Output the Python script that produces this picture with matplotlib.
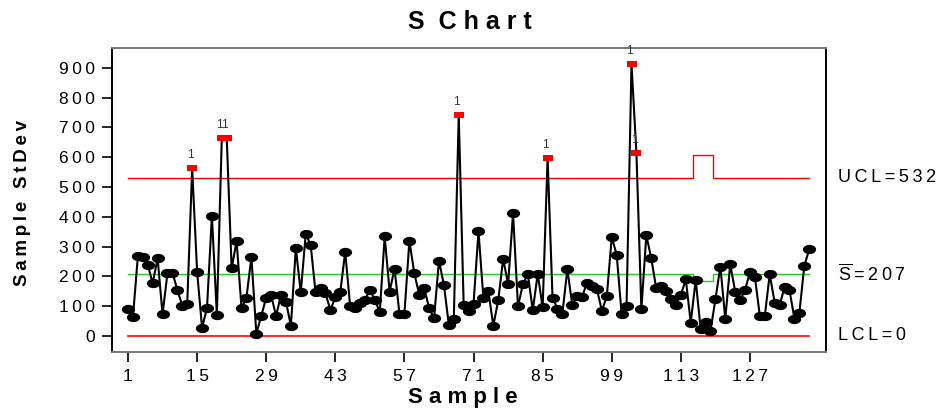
import numpy as np
import matplotlib.pyplot as plt
from matplotlib.path import Path
from matplotlib.transforms import Affine2D, blended_transform_factory

# sample standard deviations
stdev = [90, 63, 267, 264, 239, 177, 261, 73, 211, 213,
         155, 101, 108, 563, 216, 28, 93, 403, 71, 664,
         664, 227, 319, 93, 129, 265, 8, 67, 129, 136,
         67, 138, 115, 34, 295, 146, 342, 306, 146, 160,
         143, 87, 130, 146, 282, 101, 93, 110, 121, 155,
         121, 80, 334, 149, 226, 73, 75, 319, 211, 138,
         162, 93, 59, 253, 171, 37, 56, 743, 104, 84,
         108, 351, 127, 152, 34, 119, 259, 174, 412, 99,
         174, 208, 86, 208, 96, 597, 129, 91, 75, 224,
         104, 134, 132, 179, 166, 157, 84, 134, 332, 272,
         73, 102, 913, 613, 90, 338, 261, 161, 169, 151,
         124, 104, 138, 190, 45, 188, 24, 48, 17, 123,
         233, 57, 241, 149, 119, 155, 214, 197, 67, 67,
         207, 112, 103, 164, 155, 58, 76, 235, 291]
samples = np.arange(1, len(stdev) + 1)

# control limits per sample (samples 116-119 have a smaller subgroup)
ucl = [532] * 115 + [606] * 4 + [532] * 20
center = [207] * 115 + [186] * 4 + [207] * 20
lcl = [0] * len(stdev)

flagged = [14, 20, 21, 68, 86, 103, 104]   # test 1 failures

x_ticks = [1, 15, 29, 43, 57, 71, 85, 99, 113, 127]
y_ticks = [0, 100, 200, 300, 400, 500, 600, 700, 800, 900]

TS = '\u2009'


def spaced(s):
    return TS.join(s)


plt.rcParams['font.family'] = ['Liberation Sans', 'DejaVu Sans']
plt.rcParams['mathtext.fontset'] = 'custom'
plt.rcParams['mathtext.rm'] = 'Liberation Sans'

fig = plt.figure(figsize=(9.48, 4.15), dpi=100)
ax = fig.add_axes([112 / 948, 1 - 352 / 415, 714 / 948, 304 / 415])

ax.plot(samples, ucl, color='#ff0000', lw=1.0, drawstyle='steps-mid', zorder=2)
ax.plot(samples, center, color='#22cc22', lw=1.0, drawstyle='steps-mid', zorder=2)
ax.plot(samples, lcl, color='#ff0000', lw=1.2, zorder=2)

ellipse = Path.unit_circle().transformed(Affine2D().scale(1.5, 1.0))
rect = Path.unit_rectangle().transformed(Affine2D().translate(-0.5, -0.5).scale(1.7, 1.0))

normal = [i for i in range(len(stdev)) if (i + 1) not in flagged]
ax.plot(samples, stdev, color='black', lw=1.5, marker=ellipse, markersize=8.5,
        markevery=normal, markerfacecolor='black', markeredgecolor='black', zorder=3)

fx = np.array(flagged)
fy = np.array([stdev[i - 1] for i in flagged])
ax.plot(fx, fy, ls='none', marker=rect, markersize=7.5, color='#ff0000',
        markeredgewidth=0, zorder=4)
for x, y in zip(fx, fy):
    ax.annotate('1', (x, y), xytext=(-1.5, 5), textcoords='offset points',
                ha='center', va='bottom', fontsize=8.5, color='#333333',
                annotation_clip=False, zorder=5)

ax.set_xlim(-2.24, 142.4)
ax.set_ylim(-54, 967)
ax.set_xticks(x_ticks)
ax.set_xticklabels([spaced(str(t)) for t in x_ticks], fontsize=12.5)
ax.set_yticks(y_ticks)
ax.set_yticklabels([spaced(str(t)) for t in y_ticks], fontsize=12.5)
ax.tick_params(axis='both', direction='out', length=7, width=1.2, pad=5)

for side in ['left', 'bottom', 'top', 'right']:
    ax.spines[side].set_linewidth(1.4)
ax.spines['bottom'].set_color('#777777')
ax.spines['top'].set_color('#777777')

trans = blended_transform_factory(ax.transAxes, ax.transData)
lx = (838 - 112) / 714
ax.text(lx, 532, spaced('UCL=532'), transform=trans,
        ha='left', va='center', fontsize=13)
ax.text(lx, 207, r'$\overline{\mathrm{S}}$' + TS + '=' + TS + spaced('207'), transform=trans,
        ha='left', va='center', fontsize=13)
ax.text(lx, 0, spaced('LCL=0'), transform=trans,
        ha='left', va='center', fontsize=13)

fig.text(0.496, 0.948, 'S  C h a r t', ha='center', va='center', fontsize=18,
         fontweight='bold', family=['Liberation Sans Narrow', 'Liberation Sans'])
ax.set_xlabel('S a m p l e', fontsize=16, fontweight='bold')
ax.xaxis.set_label_coords((463 - 112) / 714, -(387 - 352) / 304)
ax.set_ylabel(spaced('Sample StDev'), fontsize=13.5, fontweight='bold')
ax.yaxis.set_label_coords(-(112 - 31) / 714, (352 - 203) / 304)

fig.savefig('out.png', dpi=100)
